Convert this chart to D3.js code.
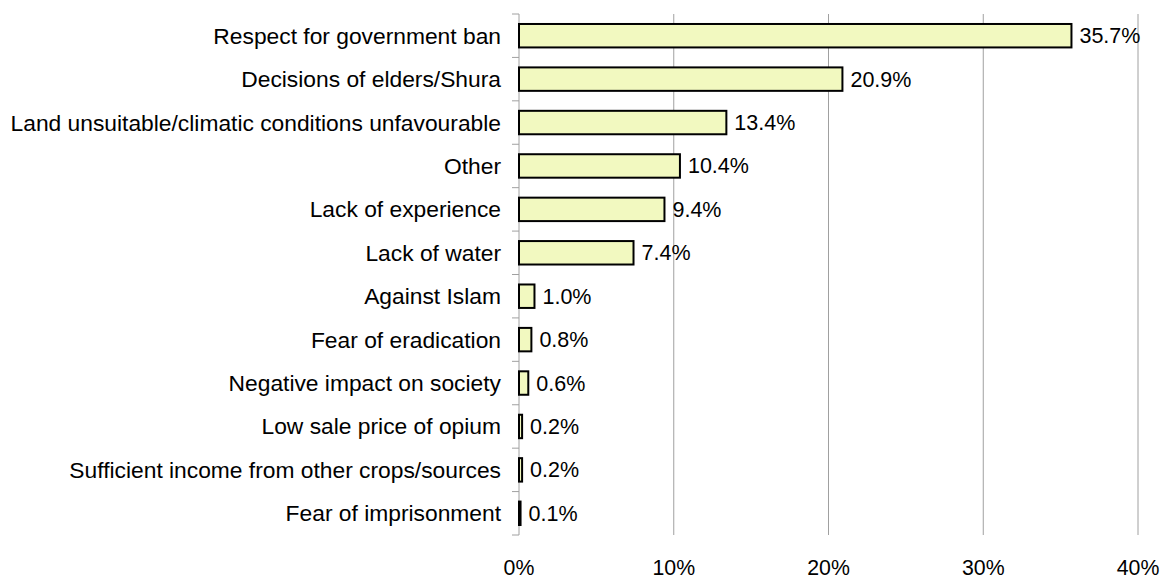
<!DOCTYPE html>
<html><head><meta charset="utf-8">
<script src="https://cdn.jsdelivr.net/npm/d3@7"></script>
<style>body{margin:0;background:#fff}svg{display:block}text{font-family:"Liberation Sans",Arial,sans-serif;fill:#000}</style>
</head><body><svg id="c" width="1163" height="579"></svg>
<script>
const categories = ["Respect for government ban","Decisions of elders/Shura","Land unsuitable/climatic conditions unfavourable","Other","Lack of experience","Lack of water","Against Islam","Fear of eradication","Negative impact on society","Low sale price of opium","Sufficient income from other crops/sources","Fear of imprisonment"];
const values = [35.7,20.9,13.4,10.4,9.4,7.4,1.0,0.8,0.6,0.2,0.2,0.1];
const xTicks = [0,10,20,30,40];
const tickLabels = ["0%","10%","20%","30%","40%"];

(function(){
const svg = d3.select("#c");
const pl = 519, pr = 1138, pt = 14, pb = 535;
const x = d3.scaleLinear().domain([0,40]).range([pl,pr]);
const y = d3.scaleBand().domain(categories).range([pt,pb]).paddingInner(0.46).paddingOuter(0.23);

svg.append("g").selectAll("line").data(xTicks.slice(1)).join("line")
  .attr("x1",d=>x(d)).attr("x2",d=>x(d)).attr("y1",pt).attr("y2",pb)
  .attr("stroke","#a0a0a0").attr("stroke-width",1);

const band = d3.scaleBand().domain(categories).range([pt,pb]);
const ya = svg.append("g");
ya.append("line").attr("x1",pl).attr("x2",pl).attr("y1",pt).attr("y2",pb).attr("stroke","#a0a0a0").attr("stroke-width",1);
const bounds = categories.map(c=>band(c)).concat([pb]);
ya.selectAll("line.t").data(bounds).join("line").attr("class","t")
  .attr("x1",pl-7).attr("x2",pl).attr("y1",d=>d).attr("y2",d=>d).attr("stroke","#a0a0a0");
ya.selectAll("text").data(categories).join("text")
  .attr("x",501).attr("y",d=>band(d)+band.bandwidth()/2).attr("dy","0.35em")
  .attr("text-anchor","end").attr("font-size",22.8).text(d=>d);

svg.append("g").selectAll("rect").data(values).join("rect")
  .attr("x",x(0)).attr("y",(d,i)=>y(categories[i]))
  .attr("width",d=>x(d)-x(0)).attr("height",y.bandwidth())
  .attr("fill","#f2f9c0").attr("stroke","#000").attr("stroke-width",2);

svg.append("g").selectAll("text").data(values).join("text")
  .attr("x",d=>x(d)+8).attr("y",(d,i)=>y(categories[i])+y.bandwidth()/2).attr("dy","0.35em")
  .attr("font-size",21.5).text(d=>d.toFixed(1)+"%");

svg.append("g").selectAll("text").data(xTicks).join("text")
  .attr("x",d=>x(d)).attr("y",568).attr("dy","0.35em").attr("text-anchor","middle")
  .attr("font-size",21.3).text((d,i)=>tickLabels[i]);
})();
</script></body></html>
